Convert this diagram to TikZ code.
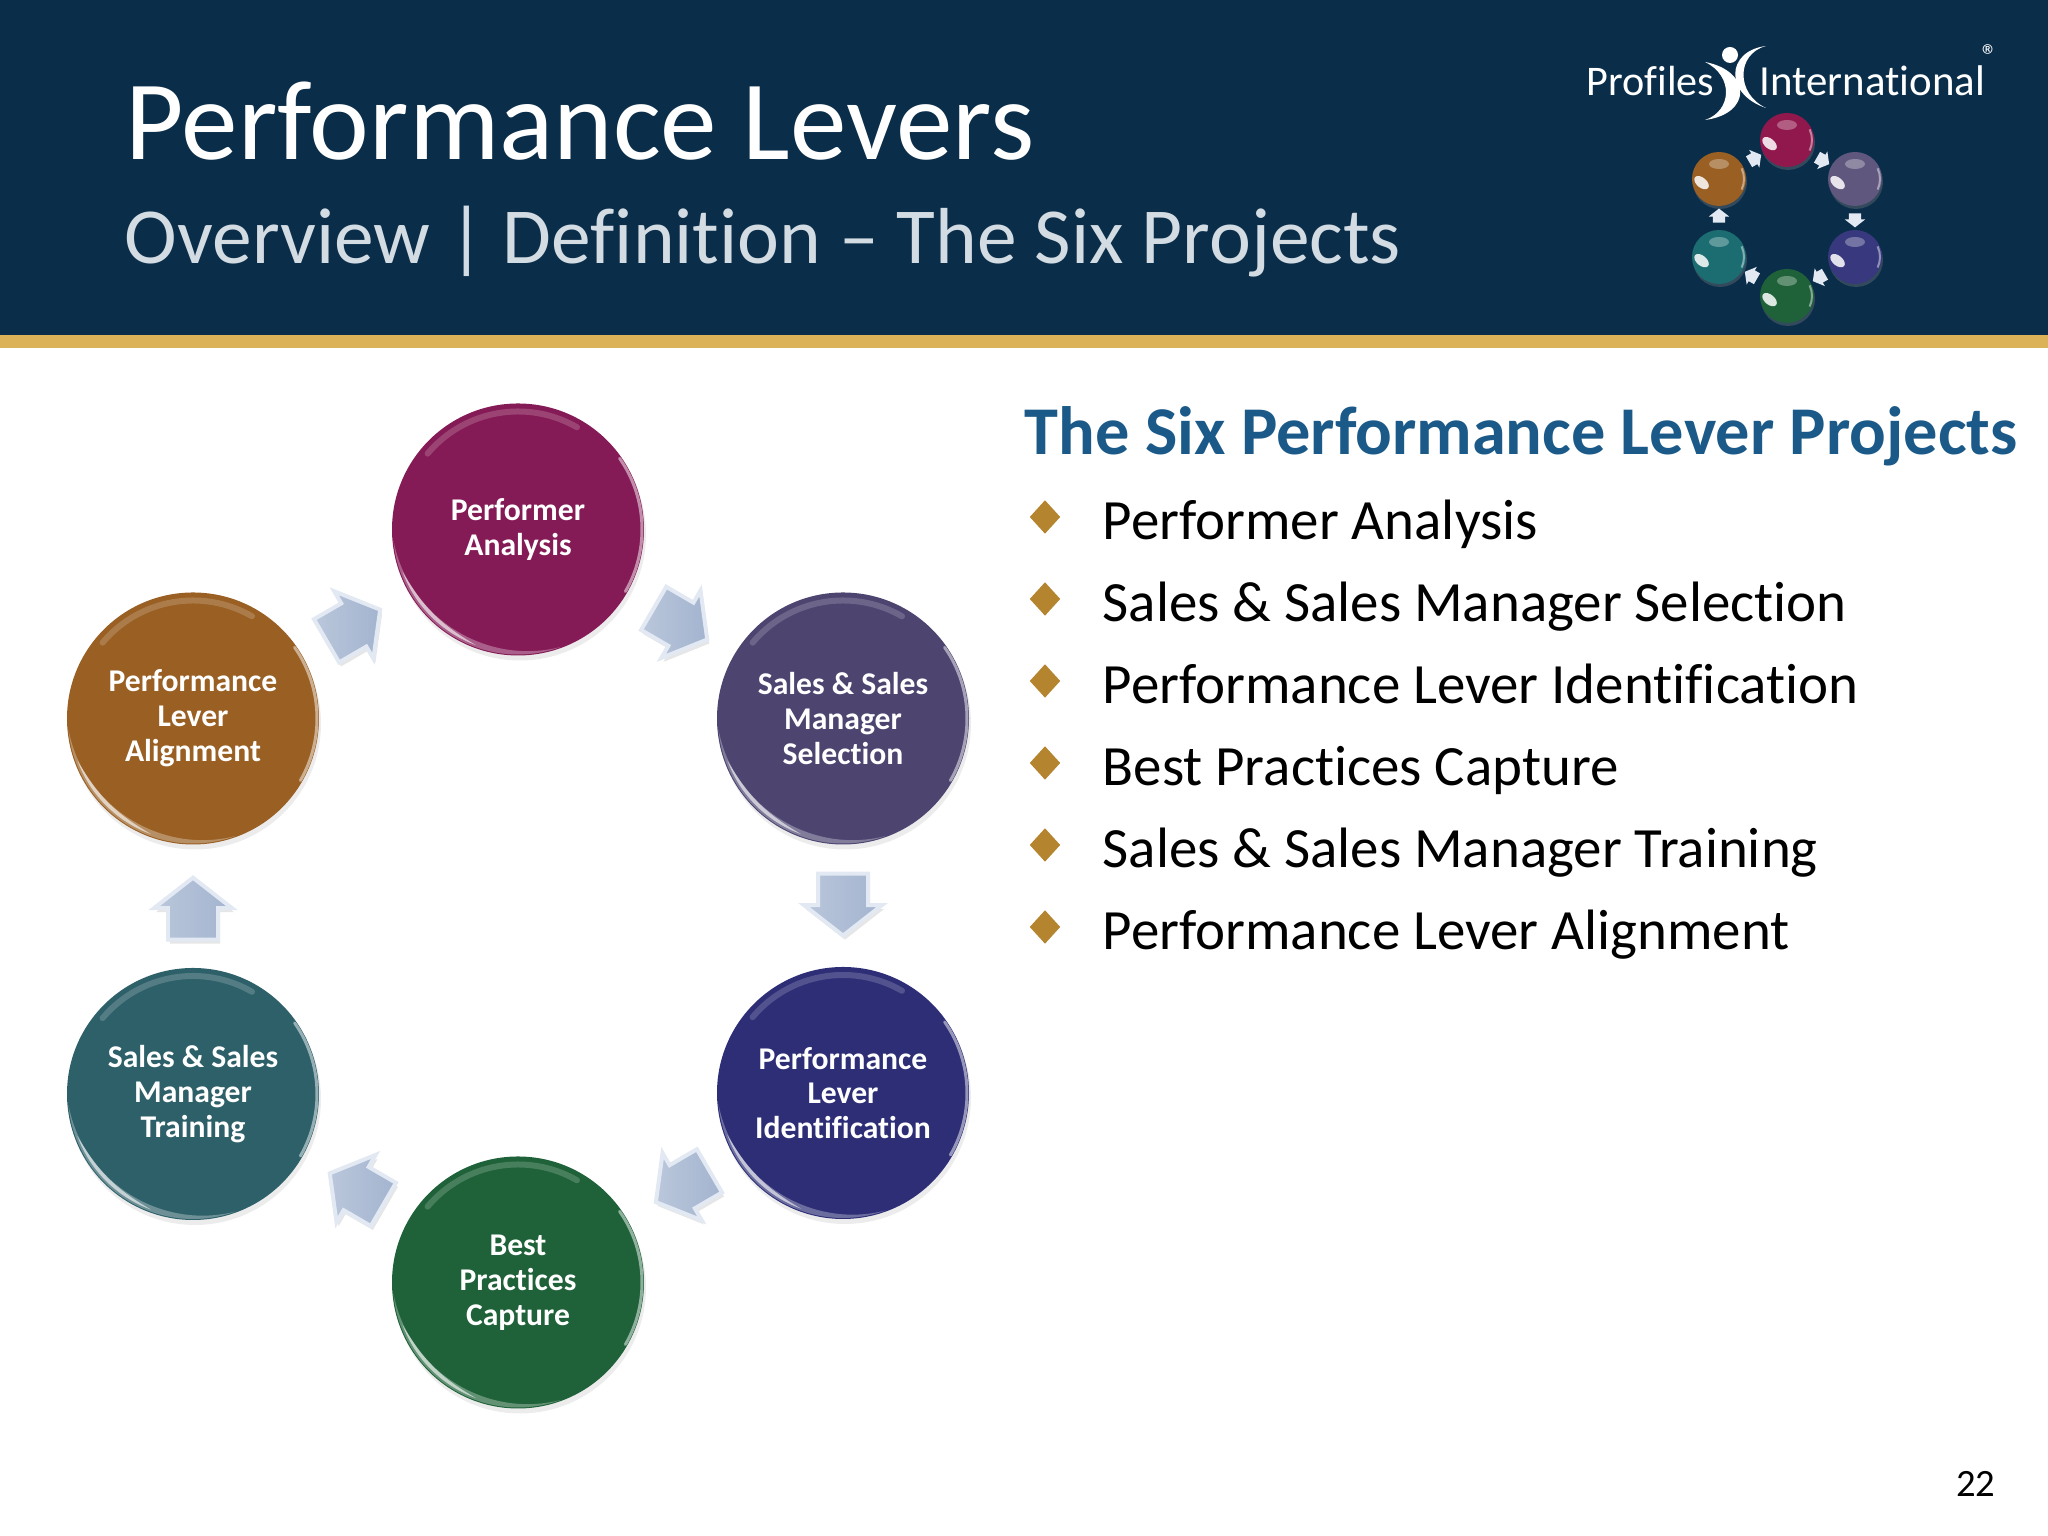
\documentclass[tikz,border=0pt]{standalone}
\usepackage{fontspec}
\setmainfont[Ligatures=NoCommon]{Carlito}
\usetikzlibrary{calc,shapes.geometric,shapes.arrows,shadows,fadings}

\definecolor{navy}{HTML}{0A2D49}
\definecolor{gold}{HTML}{DBB257}
\definecolor{bulletgold}{HTML}{B5842F}
\definecolor{headblue}{HTML}{1B5A88}
\definecolor{subgrey}{HTML}{D3DBE3}
\definecolor{perfcol}{HTML}{851B56}
\definecolor{salescol}{HTML}{4D4470}
\definecolor{identcol}{HTML}{2D2E76}
\definecolor{bestcol}{HTML}{1F6239}
\definecolor{traincol}{HTML}{2E6069}
\definecolor{aligncol}{HTML}{995F23}
\definecolor{arrowblue}{HTML}{A3B4CF}
\definecolor{arrowpale}{HTML}{E2E9F3}

\tikzset{
  leverball/.style={circle, minimum size=2.52cm, inner sep=0pt, text=white, align=center,
    font=\fontsize{9}{9.9}\selectfont\bfseries,
    drop shadow={shadow xshift=0.2mm, shadow yshift=-0.5mm, opacity=0.15}},
  leverarrow/.style={single arrow, sloped, allow upside down, inner sep=0pt,
    text height=4.6mm, text depth=0pt, text width=0pt,
    minimum height=6.2mm, single arrow head extend=1.4mm,
    single arrow tip angle=104, draw=arrowpale, line width=0.4mm,
    left color=arrowblue!75!white, right color=arrowblue,
    drop shadow={shadow xshift=0.2mm, shadow yshift=-0.4mm, opacity=0.2}},
  miniball/.style={circle, minimum size=0.54cm, inner sep=0pt,
    drop shadow={shadow xshift=0.1mm, shadow yshift=-0.3mm, opacity=0.35}},
  miniarrow/.style={single arrow, sloped, allow upside down, inner sep=0pt,
    text height=1.1mm, text depth=0pt, text width=0pt,
    minimum height=1.4mm, single arrow head extend=0.4mm,
    single arrow tip angle=104, fill=arrowpale},
  bulletmark/.style={diamond, fill=bulletgold, inner sep=0pt, minimum width=3.1mm, minimum height=3.4mm},
  bullettext/.style={anchor=base west, inner sep=0pt, font=\fontsize{16.2}{20}\selectfont}
}

\begin{document}
\begin{tikzpicture}
    \useasboundingbox (0,0) rectangle (20.48,15.36);

    % 1. Header band
    \fill[navy] (0,12.01) rectangle (20.48,15.36);
    \fill[gold] (0,12.01) rectangle (20.48,11.88);
    \node[anchor=base west, inner sep=0pt, text=white, font=\fontsize{32.2}{38}\selectfont] (title) at (1.25,13.76) {Performance Levers};
    \node[anchor=base west, inner sep=0pt, text=subgrey, font=\fontsize{22.6}{27}\selectfont] (subtitle) at (1.24,12.72) {Overview | Definition – The Six Projects};

    % 2. Logo
    \node[anchor=base west, inner sep=0pt, text=white, font=\fontsize{12}{14}\selectfont] (logoa) at (15.86,14.40) {Profiles};
    \node[anchor=base west, inner sep=0pt, text=white, font=\fontsize{12.2}{14}\selectfont] (logob) at (17.59,14.40) {International};
    \node[inner sep=0pt, text=white, font=\fontsize{9}{10}\selectfont] (logoc) at (19.90,14.80) {®};
    \fill[white] (17.30,14.81) circle (0.08);
    \fill[white] (17.66,14.90) .. controls (17.26,14.85) and (17.24,14.42) .. (17.66,14.28)
        .. controls (17.36,14.42) and (17.36,14.82) .. (17.66,14.90);
    \fill[white] (17.05,14.74) .. controls (17.52,14.65) and (17.52,14.22) .. (17.05,14.16)
        .. controls (17.32,14.25) and (17.34,14.60) .. (17.05,14.74);

    % 3. Small balls of the logo
    \node[miniball, fill=perfcol!90!red] (mperf) at (17.87,13.96) {};
    \node[miniball, fill=salescol!90!white] (msales) at (18.55,13.57) {};
    \node[miniball, fill=identcol!95!white] (mident) at (18.55,12.79) {};
    \node[miniball, fill=bestcol] (mbest) at (17.87,12.40) {};
    \node[miniball, fill=traincol!60!teal] (mtrain) at (17.19,12.79) {};
    \node[miniball, fill=aligncol] (malign) at (17.19,13.57) {};
    \foreach \ball in {mperf,msales,mident,mbest,mtrain,malign} {
        \fill[white, opacity=0.3] ($(\ball)+(0,0.15)$) ellipse (0.1 and 0.05);
        \fill[white, opacity=0.85, rotate around={-40:($(\ball)+(-0.11,-0.14)$)}] ($(\ball)+(-0.11,-0.14)$) ellipse (0.085 and 0.05);
        \draw[white, opacity=0.45, line width=0.2mm] ($(\ball)+(-25:0.25)$) arc (-25:25:0.25);
    }
    \foreach \from/\to in {mperf/msales,msales/mident,mident/mbest,mbest/mtrain,mtrain/malign,malign/mperf}
        \path (\from) -- node[miniarrow] (m\from) {} (\to);

    % 4. The six large balls
    \node[leverball, fill=perfcol] (perf) at (5.18,10.065) {Performer\\Analysis};
    \node[leverball, fill=salescol] (sales) at (8.43,8.175) {Sales \& Sales\\Manager\\Selection};
    \node[leverball, fill=identcol] (ident) at (8.43,4.43) {Performance\\Lever\\Identification};
    \node[leverball, fill=bestcol] (best) at (5.18,2.535) {Best\\Practices\\Capture};
    \node[leverball, fill=traincol] (train) at (1.93,4.42) {Sales \& Sales\\Manager\\Training};
    \node[leverball, fill=aligncol] (align) at (1.93,8.175) {Performance\\Lever\\Alignment};

    % rims: crescent low on the left, thin light arcs along the top and the right
    \foreach \ball in {perf,sales,ident,best,train,align} {
        \fill[white, opacity=0.3] ($(\ball)+(185:1.25)$) arc (185:290:1.25) to[bend left=47] cycle;
        \fill[white, opacity=0.6] ($(\ball)+(200:1.23)$) arc (200:250:1.23) to[bend left=15] cycle;
        \draw[white, opacity=0.18, line width=0.6mm, line cap=round] ($(\ball)+(60:1.18)$) arc (60:140:1.18);
        \draw[white, opacity=0.5, line width=0.3mm, line cap=round] ($(\ball)+(-30:1.24)$) arc (-30:35:1.24);
    }

    % 5. Arrows from ball to ball
    \path (perf) -- node[leverarrow, pos=0.42] (arra) {} (sales);
    \path (sales) -- node[leverarrow, pos=0.41] (arrb) {} (ident);
    \path (ident) -- node[leverarrow, pos=0.40] (arrc) {} (best);
    \path (best) -- node[leverarrow, pos=0.41] (arrd) {} (train);
    \path (train) -- node[leverarrow, pos=0.40] (arre) {} (align);
    \path (align) -- node[leverarrow, pos=0.40] (arrf) {} (perf);

    % 6. The list on the right
    \node[anchor=base west, inner sep=0pt, text=headblue, font=\fontsize{19.45}{23}\selectfont\bfseries] (head) at (10.24,10.81) {The Six Performance Lever Projects};
    \foreach \txt [count=\i] in {Performer Analysis, Sales \& Sales Manager Selection, Performance Lever Identification,
        Best Practices Capture, Sales \& Sales Manager Training, Performance Lever Alignment} {
        \node[bulletmark] (mark\i) at (10.45,{10.19-0.82*(\i-1)}) {};
        \node[bullettext] (item\i) at (11.02,{9.965-0.82*(\i-1)}) {\txt};
    }

    % 7. Page number
    \node[anchor=base east, inner sep=0pt, font=\fontsize{11}{13}\selectfont] (page) at (19.96,0.39) {22};
\end{tikzpicture}
\end{document}
